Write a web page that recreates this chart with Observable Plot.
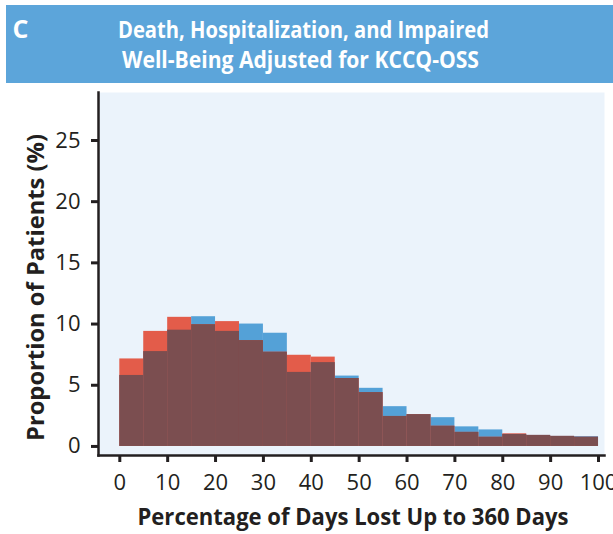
<!DOCTYPE html>
<html>
<head>
<meta charset="utf-8">
<script src="https://cdn.jsdelivr.net/npm/d3@7"></script>
<script src="https://cdn.jsdelivr.net/npm/@observablehq/plot@0.6"></script>
<style>
  html, body { margin: 0; padding: 0; background: #ffffff; overflow: hidden; }
  #wrap { position: relative; width: 613px; height: 534px; overflow: hidden; }
  #wrap > svg { position: absolute; left: 0; top: 0; }
</style>
</head>
<body>
<div id="wrap"></div>
<script>
// ---- Data ----
const panelLetter = "C";
const titleLines = ["Death, Hospitalization, and Impaired", "Well-Being Adjusted for KCCQ-OSS"];
const xTitle = "Percentage of Days Lost Up to 360 Days";
const yTitle = "Proportion of Patients (%)";
const binStarts = [0, 5, 10, 15, 20, 25, 30, 35, 40, 45, 50, 55, 60, 65, 70, 75, 80, 85, 90, 95];
const binWidth = 5;
const blueValues = [5.8, 7.75, 9.5, 10.6, 9.4, 10.0, 9.25, 6.05, 6.85, 5.75, 4.75, 3.25, 2.6, 2.35, 1.6, 1.35, 0.98, 0.9, 0.82, 0.8];
const redValues  = [7.15, 9.4, 10.55, 9.95, 10.2, 8.65, 7.7, 7.45, 7.3, 5.55, 4.4, 2.45, 2.6, 1.65, 1.15, 0.75, 1.03, 0.9, 0.82, 0.75];
const xTicks = [0, 10, 20, 30, 40, 50, 60, 70, 80, 90, 100];
const yTicks = [0, 5, 10, 15, 20, 25];

const rows = binStarts.map((s, i) => ({
  x0: s, x1: s + binWidth,
  blue: blueValues[i], red: redValues[i],
  both: Math.min(blueValues[i], redValues[i])
}));

const ink = "#231f20";
const blueCol = "#54a1d7";
const redCol = "#e35c4a";
const overlapCol = "#7b4e50";

const chart = Plot.plot({
  width: 613,
  height: 534,
  marginTop: 92,
  marginLeft: 98,
  marginRight: 9,
  marginBottom: 79,
  style: { fontFamily: "'Open Sans', sans-serif", fontSize: "22px", color: ink, background: "transparent", overflow: "hidden" },
  x: { domain: [-4.45, 101.25] },
  y: { domain: [-0.74, 28.92] },
  marks: [
    Plot.frame({ fill: "#ebf3fb", stroke: null }),
    Plot.rect(rows, { x1: "x0", x2: "x1", y1: d => 0, y2: "blue", fill: blueCol, inset: 0 }),
    Plot.rect(rows, { x1: "x0", x2: "x1", y1: d => 0, y2: "red", fill: redCol, inset: 0 }),
    Plot.rect(rows, { x1: "x0", x2: "x1", y1: d => 0, y2: "both", fill: overlapCol, inset: 0 }),
    Plot.axisX({ ticks: xTicks, tickSize: 7, tickPadding: 12, strokeWidth: 3, stroke: ink, fill: ink, label: null, fontSize: 22 }),
    Plot.axisY({ ticks: yTicks, tickSize: 7, tickPadding: 11, strokeWidth: 3, stroke: ink, fill: ink, label: null, fontSize: 22 }),
    Plot.frame({ anchor: "left", stroke: ink, strokeWidth: 2.5 }),
    Plot.frame({ anchor: "bottom", stroke: ink, strokeWidth: 2.5 }),
    Plot.text([xTitle], { frameAnchor: "bottom", dy: 62, dx: 1.5, textAnchor: "middle", lineAnchor: "middle", fontWeight: "bold", fontSize: 23, fill: ink }),
    Plot.text([yTitle], { frameAnchor: "left", dx: -62, dy: 13.5, rotate: -90, textAnchor: "middle", lineAnchor: "middle", fontWeight: "bold", fontSize: 23, fill: ink })
  ]
});
document.getElementById("wrap").appendChild(chart);

// condense the axis titles to the reference's widths
d3.select(chart).selectAll("text").each(function () {
  const t = this.textContent;
  if (t === xTitle) d3.select(this).attr("textLength", 431).attr("lengthAdjust", "spacingAndGlyphs");
  if (t === yTitle) d3.select(this).attr("textLength", 307).attr("lengthAdjust", "spacingAndGlyphs");
});

// ---- Banner ----
const banner = d3.select("#wrap").append("svg")
  .attr("width", 613).attr("height", 90)
  .style("font-family", "'Open Sans', sans-serif");
banner.append("rect").attr("x", 6).attr("y", 5).attr("width", 607).attr("height", 78).attr("fill", "#5ca5da");
banner.append("text").attr("x", 12.5).attr("y", 37.5).attr("fill", "#ffffff")
  .attr("font-weight", "bold").attr("font-size", 25).text(panelLetter);
const lineSpec = [
  { cx: 303.5, y: 38.3, w: 371 },
  { cx: 300.5, y: 67.8, w: 357 }
];
titleLines.forEach((t, i) => {
  banner.append("text")
    .attr("x", lineSpec[i].cx).attr("y", lineSpec[i].y)
    .attr("text-anchor", "middle")
    .attr("fill", "#ffffff").attr("font-weight", "bold").attr("font-size", 24)
    .attr("textLength", lineSpec[i].w).attr("lengthAdjust", "spacingAndGlyphs")
    .text(t);
});
</script>
</body>
</html>
